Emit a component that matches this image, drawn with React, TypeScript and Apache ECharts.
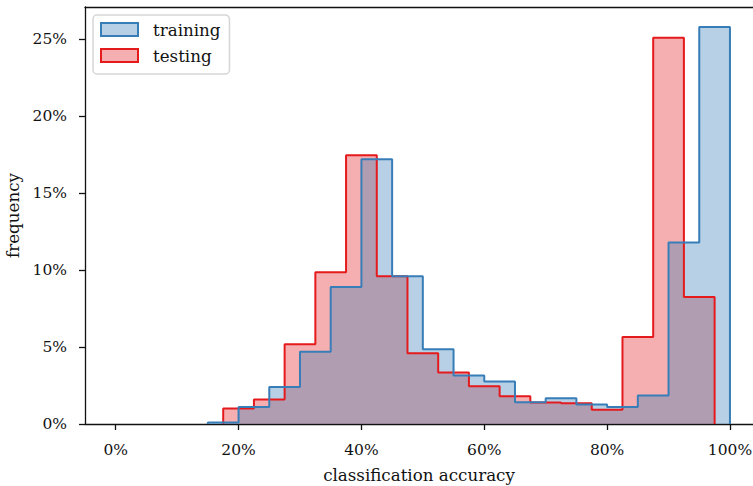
import React, { useEffect, useRef } from "react";
import * as echarts from "echarts";

const binWidth = 5;
const trainingBinStarts = [15, 20, 25, 30, 35, 40, 45, 50, 55, 60, 65, 70, 75, 80, 85, 90, 95];
const trainingFreq = [0.1, 1.1, 2.4, 4.7, 8.9, 17.2, 9.6, 4.85, 3.15, 2.77, 1.42, 1.68, 1.26, 1.1, 1.86, 11.8, 25.8];
const testingBinStarts = [17.5, 22.5, 27.5, 32.5, 37.5, 42.5, 47.5, 52.5, 57.5, 62.5, 67.5, 72.5, 77.5, 82.5, 87.5, 92.5];
const testingFreq = [1.0, 1.6, 5.18, 9.86, 17.47, 9.6, 4.6, 3.35, 2.46, 1.8, 1.4, 1.35, 0.93, 5.65, 25.1, 8.25];
const xTicks = [0, 20, 40, 60, 80, 100];
const yTicks = [0, 5, 10, 15, 20, 25];

const FONT = "'DejaVu Serif', 'Liberation Serif', serif";
const TICK_FS = 15.5;
const NAME_FS = 16.7;
const LEGEND_FS = 16.7;
const BLUE = "#377eb8";
const RED = "#e41a1c";
const BLUE_FILL = "rgba(55,126,184,0.36)";
const RED_FILL = "rgba(228,26,28,0.35)";
const INK = "#111";

function stepPoints(starts: number[], vals: number[]): number[][] {
  const pts: number[][] = [[starts[0], 0]];
  starts.forEach((s, i) => {
    pts.push([s, vals[i]]);
    pts.push([s + binWidth, vals[i]]);
  });
  pts.push([starts[starts.length - 1] + binWidth, 0]);
  return pts;
}

export default function App() {
  const ref = useRef<HTMLDivElement>(null);
  useEffect(() => {
    if (!ref.current) return;
    const chart = echarts.init(ref.current, null, { renderer: "svg" });
    chart.setOption({
      animation: false,
      backgroundColor: "#fff",
      textStyle: { fontFamily: FONT },
      grid: { left: 85, right: 0, top: 7, bottom: 62, outerBoundsMode: "none", containLabel: false },
      legend: {
        orient: "vertical",
        left: 93,
        top: 15,
        padding: [6, 9, 10, 7],
        itemGap: 9,
        itemWidth: 37,
        itemHeight: 13,
        backgroundColor: "rgba(255,255,255,0.85)",
        borderColor: "#d6d6d6",
        borderWidth: 1.5,
        borderRadius: 4,
        textStyle: { fontFamily: FONT, fontSize: LEGEND_FS, color: INK, padding: [0, 0, 0, 10] },
        data: [
          { name: "training", icon: "rect", itemStyle: { color: BLUE_FILL, borderColor: BLUE, borderWidth: 2 } },
          { name: "testing", icon: "rect", itemStyle: { color: RED_FILL, borderColor: RED, borderWidth: 2 } },
        ],
      },
      xAxis: [
        {
          type: "value",
          min: -5,
          max: 103.75,
          name: "classification accuracy",
          nameLocation: "middle",
          nameGap: 42,
          nameTextStyle: { fontFamily: FONT, fontSize: NAME_FS, color: INK },
          axisLine: { show: true, onZero: false, lineStyle: { color: INK, width: 1.3 } },
          axisTick: { show: true, length: 6, customValues: xTicks, lineStyle: { color: INK, width: 1.3 } },
          axisLabel: {
            customValues: xTicks,
            margin: 18,
            fontFamily: FONT,
            fontSize: TICK_FS,
            color: INK,
            formatter: (v: number) => `${v}%`,
          },
          splitLine: { show: false },
        },
        {
          type: "value",
          position: "top",
          min: -5,
          max: 103.75,
          axisLine: { show: true, onZero: false, lineStyle: { color: INK, width: 1.3 } },
          axisTick: { show: false },
          axisLabel: { show: false },
          splitLine: { show: false },
        },
      ],
      yAxis: {
        type: "value",
        min: 0,
        max: 27.1,
        name: "frequency",
        nameLocation: "middle",
        nameGap: 62,
        nameTextStyle: { fontFamily: FONT, fontSize: NAME_FS, color: INK },
        axisLine: { show: true, onZero: false, lineStyle: { color: INK, width: 1.3 } },
        axisTick: { show: true, length: 6, customValues: yTicks, lineStyle: { color: INK, width: 1.3 } },
        axisLabel: {
          customValues: yTicks,
          margin: 18,
          fontFamily: FONT,
          fontSize: TICK_FS,
          color: INK,
          formatter: (v: number) => `${v}%`,
        },
        splitLine: { show: false },
      },
      series: [
        {
          name: "testing",
          type: "line",
          data: stepPoints(testingBinStarts, testingFreq),
          showSymbol: false,
          symbol: "none",
          lineStyle: { color: RED, width: 2 },
          itemStyle: { color: RED },
          areaStyle: { color: RED_FILL, opacity: 1 },
        },
        {
          name: "training",
          type: "line",
          data: stepPoints(trainingBinStarts, trainingFreq),
          showSymbol: false,
          symbol: "none",
          lineStyle: { color: BLUE, width: 2 },
          itemStyle: { color: BLUE },
          areaStyle: { color: BLUE_FILL, opacity: 1 },
        },
      ],
    });
    return () => chart.dispose();
  }, []);
  return <div ref={ref} style={{ width: 753, height: 486, position: "absolute", left: 0, top: 0 }} />;
}
